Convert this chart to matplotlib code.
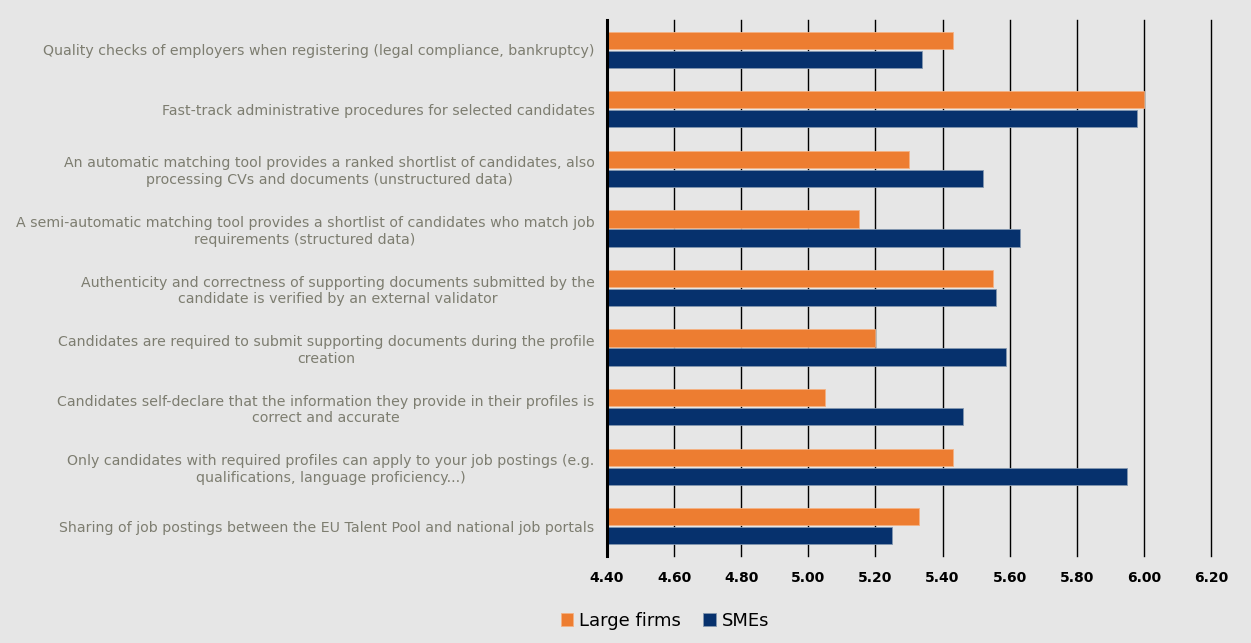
import matplotlib
matplotlib.use("Agg")
import matplotlib.pyplot as plt
import numpy as np

categories = [
    "Quality checks of employers when registering (legal compliance, bankruptcy)",
    "Fast-track administrative procedures for selected candidates",
    "An automatic matching tool provides a ranked shortlist of candidates, also\nprocessing CVs and documents (unstructured data)",
    "A semi-automatic matching tool provides a shortlist of candidates who match job\nrequirements (structured data)",
    "Authenticity and correctness of supporting documents submitted by the\ncandidate is verified by an external validator",
    "Candidates are required to submit supporting documents during the profile\ncreation",
    "Candidates self-declare that the information they provide in their profiles is\ncorrect and accurate",
    "Only candidates with required profiles can apply to your job postings (e.g.\nqualifications, language proficiency...)",
    "Sharing of job postings between the EU Talent Pool and national job portals",
]
large_firms = [5.43, 6.00, 5.30, 5.15, 5.55, 5.20, 5.05, 5.43, 5.33]
smes = [5.34, 5.98, 5.52, 5.63, 5.56, 5.59, 5.46, 5.95, 5.25]
xticks = [4.40, 4.60, 4.80, 5.00, 5.20, 5.40, 5.60, 5.80, 6.00, 6.20]

BG = "#e6e6e6"
ORANGE = "#ed7d31"
BLUE = "#06316d"
TXT = "#7d7d70"

fig = plt.figure(figsize=(12.51, 6.43), dpi=100, facecolor=BG)
ax = fig.add_axes([607 / 1251, 1 - 556 / 643, (1211 - 607) / 1251, 536 / 643])
ax.set_facecolor(BG)

y = np.arange(len(categories))
h = 0.29
off = 0.16
xmin = xticks[0]
ax.barh(y - off, np.array(large_firms) - xmin, left=xmin, height=h, color=ORANGE,
        edgecolor="#f4b183", linewidth=0.6, label="Large firms", zorder=3)
ax.barh(y + off, np.array(smes) - xmin, left=xmin, height=h, color=BLUE,
        edgecolor="#8497b0", linewidth=0.6, label="SMEs", zorder=3)

ax.set_xlim(xticks[0], xticks[-1])
ax.set_ylim(len(categories) - 0.5, -0.5)
ax.set_xticks(xticks)
ax.set_xticklabels([f"{v:.2f}" for v in xticks], fontsize=10, fontweight="bold", color="black")
ax.set_yticks(y)
ax.set_yticklabels(categories, fontsize=10.15, color=TXT, linespacing=1.25)
ax.tick_params(axis="y", length=0, pad=9)
ax.tick_params(axis="x", length=0, pad=11)
for xv in xticks[1:]:
    ax.axvline(xv, color="black", linewidth=1.0, zorder=1, clip_on=False)
for s in ["top", "right", "bottom"]:
    ax.spines[s].set_visible(False)
ax.spines["left"].set_color("black")
ax.spines["left"].set_linewidth(2.2)
ax.spines["left"].set_zorder(4)

for lab in ax.get_yticklabels():
    lab.set_horizontalalignment("right")
    lab.set_multialignment("center")

fig.legend(loc="center", bbox_to_anchor=(665 / 1251, 1 - 621 / 643), ncol=2,
           frameon=False, fontsize=13, handlelength=0.7, handleheight=0.7,
           handletextpad=0.35, columnspacing=1.2)

fig.savefig("out.png", dpi=100, facecolor=BG)
